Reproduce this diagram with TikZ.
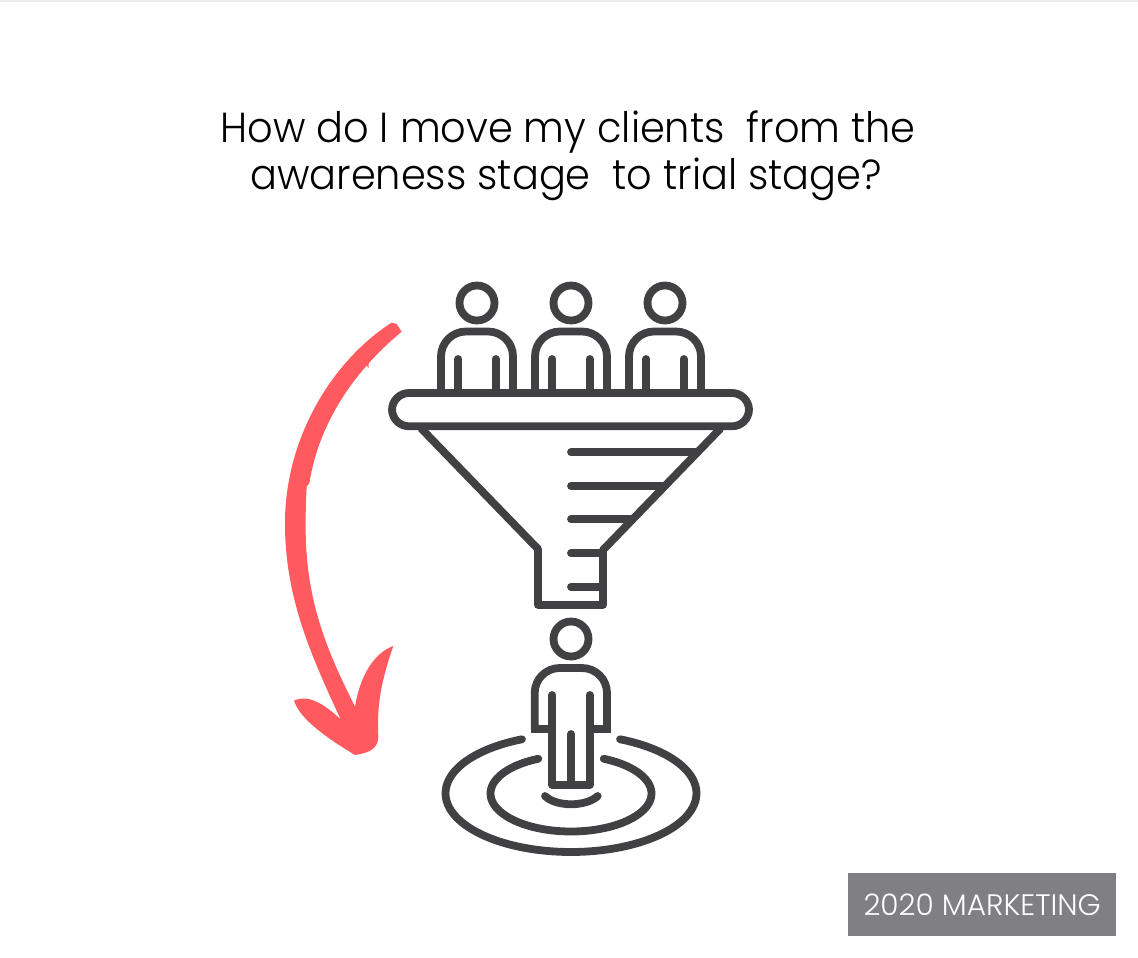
\documentclass[tikz,border=0pt]{standalone}
\usepackage{fontspec}
\setmainfont{Poppins Light}
\newfontfamily\titlefont[FakeStretch=0.95]{Poppins Light}
\definecolor{ink}{HTML}{414042}
\definecolor{coral}{HTML}{FF5A5F}
\definecolor{badge}{HTML}{808084}
\tikzset{
  icon/.style={draw=ink,line width=7.8pt,line join=round,line cap=round},
  flat/.style={draw=ink,line width=7.8pt,line join=miter,line cap=butt},
  titleline/.style={anchor=base,inner sep=0pt,text=black,font=\titlefont\fontsize{42}{42}\selectfont},
  badgetext/.style={anchor=center,inner sep=0pt,text=white,font=\fontsize{29.6}{30}\selectfont}
}
\newcommand{\crowdperson}[1]{%
  \begin{scope}[shift={(#1,0)}]
    \draw[icon] (0,303) circle[radius=17.5pt];
    \draw[flat,rounded corners=25pt] (-36,393) -- (-36,331.5) -- (36,331.5) -- (36,393);
    \draw[icon] (-18.7,359) -- (-18.7,393);
    \draw[icon] (18.7,359) -- (18.7,393);
  \end{scope}}
\begin{document}
\begin{tikzpicture}[x=1pt,y=-1pt]
\useasboundingbox (0,0) rectangle (1138,958);
\fill[white] (0,0) rectangle (1138,958);
\fill[black!7] (0,0) rectangle (1138,2);
% title
\node[titleline] (t1) at (568,142) {How do I move my clients\ \ from the};
\node[titleline] (t2) at (566,189) {awareness stage\ \ to trial stage?};
% crowd
\crowdperson{477}\crowdperson{571}\crowdperson{665}
% funnel
\draw[icon,rounded corners=17pt] (392,393) rectangle (749,426.3);
\draw[icon] (421.7,429) -- (538,549) -- (538,605) -- (603,605) -- (603,550) -- (720,429);
\foreach \yy/\xx in {452.3/695,486/662,519.3/630,553.3/602,586.7/602}
  \draw[icon] (571,\yy) -- (\xx,\yy);
% lower person
\draw[icon] (571,639) circle[radius=17.5pt];
\draw[flat,rounded corners=25pt] (534.7,729) -- (534.7,668) -- (607,668) -- (607,729);
\draw[flat,line cap=rect] (534.7,729) -- (552.3,729);
\draw[flat,line cap=rect] (607,729) -- (589.7,729);
\draw[icon] (552.3,695) -- (552.3,785) -- (589.7,785) -- (589.7,695);
\draw[icon] (571,734) -- (571,785);
% target
\draw[icon] plot[domain=113:427,samples=90,smooth] ({571+125.5*cos(\x)},{793.3-58.7*sin(\x)});
\draw[icon] plot[domain=114:426,samples=80,smooth] ({571+80.5*cos(\x)},{793.5-38*sin(\x)});
\draw[icon] (545,796) .. controls (556,807) and (586,807) .. (597.7,796);
% hand-drawn arrow
\begin{scope}[shift={(270,310)},x=0.3333pt,y=-0.3333pt]
\fill[coral]
  (365,38) .. controls (190,150) and (45,380) .. (45,640)
  .. controls (45,860) and (120,1030) .. (212,1228)
  .. controls (170,1190) and (120,1150) .. (72,1172)
  .. controls (90,1230) and (180,1290) .. (255,1335)
  .. controls (290,1330) and (325,1320) .. (325,1280)
  .. controls (320,1180) and (335,1110) .. (370,1008)
  .. controls (310,1030) and (270,1100) .. (255,1190)
  .. controls (170,1020) and (105,870) .. (107,640)
  .. controls (107,600) and (108,565) .. (110,530)
  -- (118,520)
  .. controls (140,380) and (215,215) .. (395,65)
  -- (380,42) -- cycle;
\fill[coral] (285,158) -- (296,150) -- (296,175) -- cycle;
\end{scope}
% badge
\node[fill=badge,minimum width=268pt,minimum height=63pt,inner sep=0pt,anchor=north west] (badgebox) at (848,873) {};
\node[badgetext] (badgelabel) at (badgebox.center) {2020 MARKETING};
\end{tikzpicture}
\end{document}
